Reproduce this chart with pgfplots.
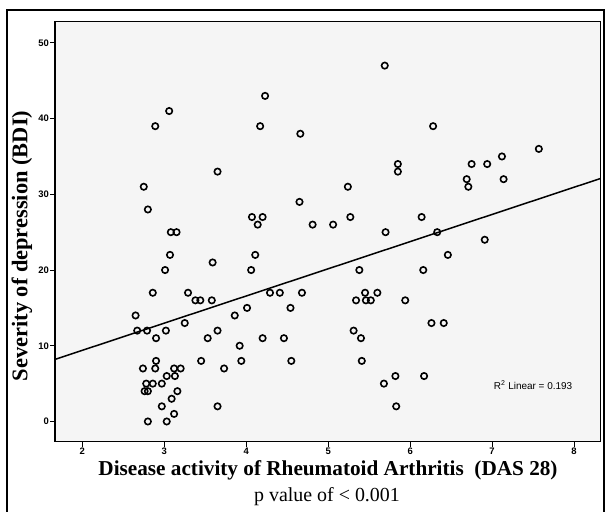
\documentclass[border=0pt]{standalone}
\usepackage{fontspec}
\setmainfont{Liberation Serif}
\newfontfamily\arial{Liberation Sans}
\usepackage{pgfplots}
\usepackage{pgfplotstable}
\pgfplotsset{compat=1.18}

% DAS 28 vs BDI
\pgfplotstableread{
das bdi
5.69 47
4.23 43
3.06 41
2.89 39
4.17 39
6.28 39
4.66 38
7.57 36
7.12 35
5.85 34
6.75 34
6.94 34
5.85 33
3.65 33
6.69 32
7.14 32
2.75 31
5.24 31
6.71 31
4.65 29
2.80 28
4.07 27
4.20 27
5.27 27
6.14 27
4.14 26
4.81 26
5.06 26
3.08 25
3.15 25
5.70 25
6.33 25
6.91 24
3.07 22
4.11 22
6.46 22
3.59 21
3.01 20
4.06 20
5.38 20
6.16 20
2.86 17
3.29 17
4.29 17
4.41 17
4.68 17
5.45 17
5.60 17
3.38 16
3.44 16
3.58 16
5.34 16
5.46 16
5.52 16
5.94 16
4.01 15
4.54 15
2.65 14
3.86 14
3.25 13
6.26 13
6.41 13
2.67 12
2.79 12
3.02 12
3.65 12
5.31 12
2.90 11
3.53 11
4.20 11
4.46 11
5.40 11
3.92 10
2.90 8
3.45 8
3.94 8
4.55 8
5.41 8
2.74 7
2.89 7
3.12 7
3.20 7
3.73 7
3.03 6
3.13 6
5.82 6
6.17 6
2.78 5
2.86 5
2.97 5
5.68 5
2.76 4
2.80 4
3.16 4
3.09 3
2.97 2
3.65 2
5.83 2
3.12 1
2.80 0
3.03 0
}\dastable

\begin{document}
\begin{tikzpicture}[x=1bp,y=1bp]
\useasboundingbox (0,0) rectangle (605,512);
\fill[white] (0,0) rectangle (605,512);
% outer frame of the figure
\draw[line width=2bp] (7.3,-5) -- (7.3,502) -- (603.5,502) -- (603.5,-5);

\begin{axis}[
  at={(55bp,70.3bp)}, anchor=south west,
  scale only axis,
  width=545.7bp, height=420bp,
  xmin=1.667, xmax=8.325,
  ymin=-2.67, ymax=52.8,
  axis background/.style={fill=black!4},
  axis line style={line width=1.5bp},
  xtick={2,3,4,5,6,7,8},
  ytick={0,10,20,30,40,50},
  xtick pos=bottom, ytick pos=left,
  tick align=outside,
  major tick length=5bp,
  tick style={black, line width=0.9bp},
  /pgf/number format/assume math mode=true,
  ticklabel style={font=\arial\bfseries\fontsize{9.5}{10}\selectfont},
  yticklabel style={inner sep=0.8bp},
  xticklabel style={inner sep=1.2bp},
  clip=true,
]
\addplot[black, line width=1.5bp, no marks] coordinates {(1.667,8.2) (8.325,32.1)};
\addplot[only marks, mark=o, mark size=3.2bp, mark options={line width=1.6bp, black}]
  table[x=das, y=bdi] {\dastable};
\node[font=\arial\fontsize{10}{10}\selectfont, anchor=center] at (axis cs:7.50,4.8) {R\textsuperscript{2} Linear = 0.193};
\end{axis}

\node[font=\bfseries\fontsize{21.3}{22}\selectfont] at (328,42) {Disease activity of Rheumatoid Arthritis\ \ (DAS 28)};
\node[font=\fontsize{20}{21}\selectfont] at (327,15.3) {p value of < 0.001};
\node[font=\bfseries\fontsize{22.5}{23}\selectfont, rotate=90] at (22,266) {Severity of depression (BDI)};
\end{tikzpicture}
\end{document}
